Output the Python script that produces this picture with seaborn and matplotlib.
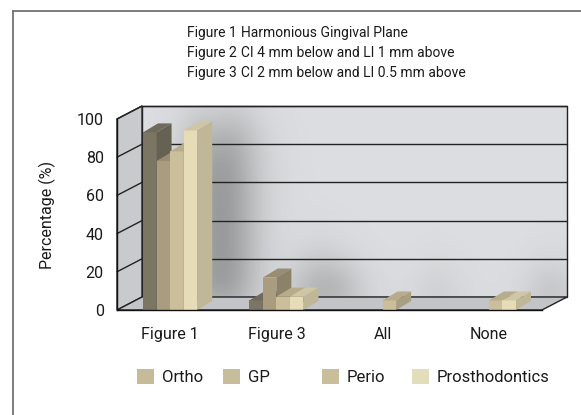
import matplotlib.pyplot as plt
import numpy as np
import pandas as pd
import seaborn as sns
from matplotlib.colors import to_rgb
from matplotlib.lines import Line2D
from matplotlib.patches import Patch, Polygon, Rectangle
from matplotlib.transforms import ScaledTranslation

# === data ===
groups = ["Figure 1", "Figure 3", "All", "None"]
specialties = ["Ortho", "GP", "Perio", "Prosthodontics"]
ortho = [93, 5, 0, 0]
gp = [78, 17, 0, 0]
perio = [83, 7, 5, 5]
prostho = [94, 7, 0, 5]
y_ticks = [0, 20, 40, 60, 80, 100]
key_names = ["Figure 1", "Figure 2", "Figure 3"]
key_texts = [
    "Harmonious Gingival Plane",
    "CI 4 mm below and LI 1 mm above",
    "CI 2 mm below and LI 0.5 mm above",
]

front_colors = ["#7b7664", "#a99c7f", "#cbbf9b", "#e6dcb7"]
legend_colors = ["#c6bb98", "#c8bd9b", "#c9be9c", "#e4ddbb"]

series = {"Ortho": ortho, "GP": gp, "Perio": perio, "Prosthodontics": prostho}
df = pd.DataFrame(
    [(g, s, vals[i]) for s, vals in series.items() for i, g in enumerate(groups)],
    columns=["group", "specialty", "value"],
)

sns.set_style("white")
plt.rcParams["font.family"] = ["Roboto", "DejaVu Sans"]
plt.rcParams["font.size"] = 11.5
txt_color = "#1a1a1a"

W, H = 581, 415
fig = plt.figure(figsize=(W / 100, H / 100), dpi=100)
# front plane of the 3d box (pixels: x 117..542, y 119..310)
ax = fig.add_axes([117 / W, 105 / H, 425 / W, 191 / H])
ax.set_facecolor("none")

sns.barplot(
    data=df, x="group", y="value", hue="specialty", order=groups,
    hue_order=specialties, palette=front_colors, saturation=1, width=0.51,
    gap=0, errorbar=None, legend=False, linewidth=0, ax=ax,
)
bars = list(ax.patches)
ax.set_xlim(-0.5, 3.5)
ax.set_ylim(0, 100)

# --- pseudo 3d faces on the bars ---
dx_bar = 15 * 4.0 / 425
dy_bar = 9 * 100.0 / 191


def shade(c, f):
    return tuple(min(1, v * f) for v in to_rgb(c))


for i, bar in enumerate(bars):
    k = i // len(groups)
    bar.set_zorder(3 + k)
    h = bar.get_height()
    if h <= 0:
        continue
    x0 = bar.get_x()
    x1 = x0 + bar.get_width()
    top = Polygon([(x0, h), (x1, h), (x1 + dx_bar, h + dy_bar), (x0 + dx_bar, h + dy_bar)],
                  closed=True, fc=shade(front_colors[k], 0.9), lw=0, zorder=3 + k, clip_on=False)
    side = Polygon([(x1, 0), (x1 + dx_bar, dy_bar), (x1 + dx_bar, h + dy_bar), (x1, h)],
                   closed=True, fc=shade(front_colors[k], 0.83), lw=0, zorder=3 + k, clip_on=False)
    ax.add_patch(top)
    ax.add_patch(side)

# --- walls of the box ---
a, b = 25 / 425, 13 / 191
back = Rectangle((a, b), 1, 1, transform=ax.transAxes, fc="#dcdde0", ec="#222222",
                 lw=1, zorder=0.5, clip_on=False)
left = Polygon([(0, 0), (a, b), (a, 1 + b), (0, 1)], transform=ax.transAxes,
               fc="#c9cacd", ec="#222222", lw=1, zorder=0.5, clip_on=False)
floor = Polygon([(0, 0), (1, 0), (1 + a, b), (a, b)], transform=ax.transAxes,
                fc="#c3c4c7", ec="#222222", lw=1, zorder=0.5, clip_on=False)
for p in (back, left, floor):
    ax.add_patch(p)

# soft shadow of the bars on the back wall
xs = np.linspace(-0.5, 3.5, 400)
ys = np.linspace(0, 100, 200)
X, Y = np.meshgrid(xs, ys)


def step(v, s):
    return 0.5 * (1 + np.tanh(v / s))


dark = np.zeros_like(X)
for bar in bars:
    h = bar.get_height()
    if h <= 0:
        continue
    x0 = bar.get_x() + 0.2
    x1 = x0 + bar.get_width()
    dark += 0.7 * (step(X - x0, 0.22) - step(X - x1, 0.25)) * (step(Y + 5, 10) - step(Y - h - 3, 15))
dark = np.clip(dark, 0, 1)
rgba = np.zeros(X.shape + (4,))
rgba[..., :3] = 0.25
rgba[..., 3] = 0.75 * dark
back_trans = ax.transData + ScaledTranslation(25 / 100, 13 / 100, fig.dpi_scale_trans)
ax.imshow(rgba, extent=(-0.5, 3.5, 0, 100), origin="lower", aspect="auto",
          interpolation="bilinear", transform=back_trans, zorder=0.6, clip_on=False)
ax.set_xlim(-0.5, 3.5)
ax.set_ylim(0, 100)

for t in y_ticks[1:]:
    yf = t / 100
    ax.plot([a, 1 + a], [yf + b, yf + b], color="#222222", lw=1, transform=ax.transAxes,
            zorder=0.8, clip_on=False)
    ax.plot([0, a], [yf, yf + b], color="#222222", lw=1, transform=ax.transAxes,
            zorder=0.8, clip_on=False)

# --- axes, ticks ---
for s in ("top", "right"):
    ax.spines[s].set_visible(False)
for s in ("left", "bottom"):
    ax.spines[s].set_color("#111111")
    ax.spines[s].set_linewidth(1)
    ax.spines[s].set_zorder(10)
ax.set_yticks(y_ticks)
ax.set_xticks(range(len(groups)))
ax.set_xticklabels(groups)
ax.set_xticks(np.arange(-0.5, len(groups), 1), minor=True)
ax.tick_params(axis="x", which="major", length=0, pad=12, labelsize=11.5, colors=txt_color)
ax.tick_params(axis="x", which="minor", length=6, width=1, direction="out", color="#111111")
ax.tick_params(axis="y", length=6, width=1, direction="out", color="#111111",
               labelsize=11.5, labelcolor=txt_color)
ax.set_xlabel("")
ax.set_ylabel("")
fig.text(47 / W, 1 - 215 / H, "Percentage (%)", rotation=90, ha="center", va="center",
         fontsize=11.5, color=txt_color)

# --- key of figures ---
for j, (name, desc) in enumerate(zip(key_names, key_texts)):
    y = 1 - (33 + 20 * j) / H
    fig.text(187 / W, y, name, ha="left", va="center", fontsize=10, color=txt_color)
    fig.text(241 / W, y, desc, ha="left", va="center", fontsize=10, color=txt_color)

# --- legend, one entry per position ---
legend_x = [137, 223, 322, 412]
for s, c, lx in zip(specialties, legend_colors, legend_x):
    leg = fig.legend(handles=[Patch(fc=c, ec="none", label=s)], loc="center left",
                     bbox_to_anchor=(lx / W, 1 - 377 / H), frameon=False, borderpad=0,
                     borderaxespad=0, handlelength=1.0, handleheight=1.0,
                     handletextpad=0.5, fontsize=12, labelcolor=txt_color)

# outer frame (left and top edges)
fig.add_artist(Line2D([13 / W, 13 / W], [0, 1 - 11 / H], color="#666666", lw=1.2))
fig.add_artist(Line2D([13 / W, 1], [1 - 11 / H, 1 - 11 / H], color="#666666", lw=1.2))

fig.savefig("out.png", dpi=100)
